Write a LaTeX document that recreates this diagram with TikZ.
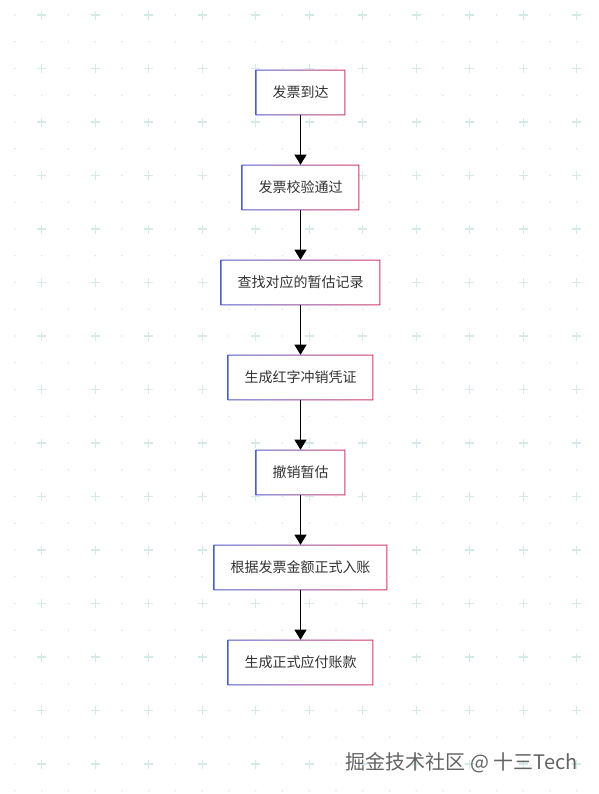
\documentclass[tikz,border=0pt]{standalone}
\usepackage{fontspec}
\newfontfamily\cjk{Noto Sans CJK SC}
\usetikzlibrary{positioning, arrows.meta}
\definecolor{edgeblue}{RGB}{78,92,206}
\definecolor{edgered}{RGB}{216,56,102}
\definecolor{plusgrid}{RGB}{210,235,233}
\definecolor{dotgrid}{RGB}{226,230,232}
\definecolor{marktext}{RGB}{100,100,100}

\begin{document}
\begin{tikzpicture}[x=0.75pt, y=0.75pt,
  stepbox/.style={fill=white, minimum height=33.75pt, inner xsep=12.4pt, inner ysep=0pt, font=\cjk\fontsize{10.5}{12}\selectfont, text=black!80},
  arrow/.style={-{Triangle[width=9pt, length=7.5pt]}, line width=0.75pt, black},
  node distance=37.1pt
]
\useasboundingbox (0,0) rectangle (599,-794);
\fill[white] (0,0) rectangle (599,-794);
\foreach \i in {0,...,22} {
  \foreach \j in {0,...,29} {
    \pgfmathsetmacro{\gx}{15+26.75*\i}
    \pgfmathsetmacro{\gy}{-15-26.75*\j}
    \ifodd\i \ifodd\j
      \fill[dotgrid] (\gx,\gy) circle (0.9);
    \else
      \draw[plusgrid, line width=0.8pt] (\gx-4.5,\gy) -- (\gx+4.5,\gy) (\gx,\gy-4.5) -- (\gx,\gy+4.5);
    \fi
    \else
      \fill[dotgrid] (\gx,\gy) circle (0.9);
    \fi
  }
}
\node[stepbox] (arrive) at (300.5,-92.5) {发票到达};
\node[stepbox, below=of arrive] (check) {发票校验通过};
\node[stepbox, below=of check] (find) {查找对应的暂估记录};
\node[stepbox, below=of find] (redvou) {生成红字冲销凭证};
\node[stepbox, below=of redvou] (cancel) {撤销暂估};
\node[stepbox, below=of cancel] (post) {根据发票金额正式入账};
\node[stepbox, below=of post] (payable) {生成正式应付账款};
\foreach \n in {arrive, check, find, redvou, cancel, post, payable}
  \shade[left color=edgeblue, right color=edgered, even odd rule]
    (\n.south west) rectangle (\n.north east)
    ([shift={(0.75pt,0.75pt)}]\n.south west) rectangle ([shift={(-0.75pt,-0.75pt)}]\n.north east);
\draw[arrow] (arrive) -- (check);
\draw[arrow] (check) -- (find);
\draw[arrow] (find) -- (redvou);
\draw[arrow] (redvou) -- (cancel);
\draw[arrow] (cancel) -- (post);
\draw[arrow] (post) -- (payable);
\node[anchor=east, inner sep=0pt, font=\cjk\fontsize{15}{18}\selectfont, text=marktext] (mark) at (578,-763) {掘金技术社区 @ 十三Tech};
\end{tikzpicture}
\end{document}
